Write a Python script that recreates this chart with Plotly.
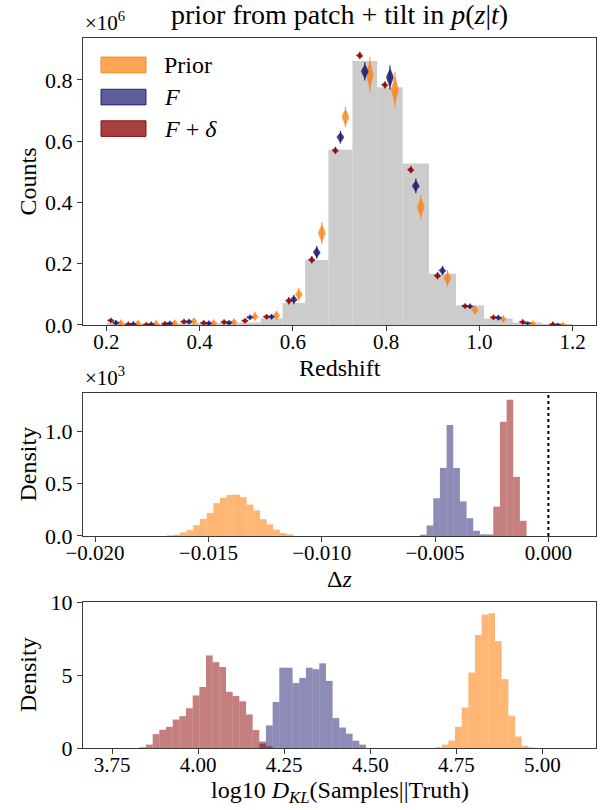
import numpy as np
import plotly.graph_objects as go

FONT = "Liberation Serif"

# ---------------- top panel: redshift distribution ----------------
z_edges = [0.2018, 0.2387, 0.2767, 0.3159, 0.3563, 0.3980, 0.4409, 0.4852, 0.5308,
           0.5778, 0.6263, 0.6762, 0.7277, 0.7808, 0.8355, 0.8918, 0.9499, 1.0098,
           1.0716, 1.1352, 1.2008]
truth_counts = [0.004, 0.002, 0.002, 0.003, 0.006, 0.005, 0.006, 0.008, 0.022, 0.072,
                0.212, 0.572, 0.862, 0.776, 0.527, 0.167, 0.064, 0.021, 0.008, 0.003]  # x1e6

prior_mean = [0.006, 0.005, 0.004, 0.006, 0.012, 0.007, 0.010, 0.028, 0.031, 0.100,
              0.300, 0.679, 0.817, 0.768, 0.385, 0.153, 0.049, 0.020, 0.005, 0.001]
prior_spread = [0.004, 0.004, 0.004, 0.004, 0.004, 0.004, 0.004, 0.005, 0.005, 0.007,
                0.012, 0.011, 0.019, 0.019, 0.013, 0.009, 0.005, 0.004, 0.003, 0.003]
f_mean = [0.0075, 0.003, 0.002, 0.005, 0.011, 0.006, 0.0075, 0.025, 0.027, 0.083,
          0.237, 0.613, 0.828, 0.808, 0.454, 0.178, 0.061, 0.024, 0.006, 0.001]
f_spread = [0.003, 0.003, 0.003, 0.003, 0.003, 0.003, 0.003, 0.003, 0.003, 0.005,
            0.007, 0.007, 0.010, 0.013, 0.008, 0.005, 0.003, 0.003, 0.002, 0.002]
fd_mean = [0.015, 0.002, 0.001, 0.004, 0.011, 0.007, 0.010, 0.014, 0.027, 0.079,
           0.213, 0.570, 0.880, 0.784, 0.507, 0.161, 0.062, 0.025, 0.010, 0.002]
fd_spread = [0.003, 0.003, 0.003, 0.003, 0.003, 0.003, 0.003, 0.003, 0.003, 0.004,
             0.004, 0.004, 0.004, 0.004, 0.004, 0.004, 0.003, 0.003, 0.003, 0.003]
z_ticks = [0.2, 0.4, 0.6, 0.8, 1.0, 1.2]
z_ticktext = ["0.2", "0.4", "0.6", "0.8", "1.0", "1.2"]
counts_ticks = [0.0, 0.2, 0.4, 0.6, 0.8]
counts_ticktext = ["0.0", "0.2", "0.4", "0.6", "0.8"]

# ---------------- middle panel: delta z (density x1e3) ----------------
dz_bin_width = 0.000294
dz_prior_start = -0.016839
dz_prior = [0.006, 0.0125, 0.034, 0.056, 0.103, 0.163, 0.219, 0.313, 0.364, 0.392,
            0.395, 0.37, 0.30, 0.245, 0.16, 0.11, 0.06, 0.028, 0.016]
dz_f_start = -0.005667
dz_f = [0.012, 0.10, 0.36, 0.65, 1.06, 0.65, 0.33, 0.17, 0.05, 0.016]
dz_fd_start = -0.002726
dz_fd = [0.015, 0.28, 1.09, 1.30, 0.565, 0.145]
dz_ticks = [-0.020, -0.015, -0.010, -0.005, 0.0]
dz_ticktext = ["\u22120.020", "\u22120.015", "\u22120.010", "\u22120.005", "0.000"]
dens1_ticks = [0.0, 0.5, 1.0]
dens1_ticktext = ["0.0", "0.5", "1.0"]

# ---------------- bottom panel: log10 KL ----------------
kl_bin_width = 0.01937
kl_prior_start = 4.688
kl_prior = [0.05, 0.23, 0.51, 1.45, 2.77, 5.17, 7.74, 9.14, 9.23, 7.32, 4.71, 2.21, 0.79, 0.16, 0.05]
kl_f_start = 4.1775
kl_f = [0.3, 1.55, 3.15, 5.5, 5.5, 4.45, 4.8, 5.5, 5.4, 5.8, 4.6, 2.05, 1.4, 0.98, 0.5, 0.23]
kl_fd_start = 3.829
kl_fd = [0.05, 0.23, 0.95, 1.25, 1.45, 1.95, 2.18, 2.72, 3.6, 4.18, 6.34, 5.88, 5.55, 3.85,
         3.56, 3.2, 2.3, 1.23, 0.45, 0.12]
kl_ticks = [3.75, 4.00, 4.25, 4.50, 4.75, 5.00]
kl_ticktext = ["3.75", "4.00", "4.25", "4.50", "4.75", "5.00"]
dens2_ticks = [0, 5, 10]
dens2_ticktext = ["0", "5", "10"]

# ---------------- colours ----------------
C_PRIOR = (255, 127, 14)
C_F = (25, 25, 112)
C_FD = (139, 0, 0)


def rgba(c, a):
    return "rgba(%d,%d,%d,%.2f)" % (c[0], c[1], c[2], a)


fig = go.Figure()

# truth histogram
edges = np.array(z_edges)
centers = 0.5 * (edges[:-1] + edges[1:])
widths = np.diff(edges)
fig.add_trace(go.Bar(x=centers, y=truth_counts, width=widths, marker_color="#cccccc",
                     marker_line_width=0, xaxis="x", yaxis="y"))


def violin_paths(xc, means, spreads, half_w):
    xs, ys, lx, ly = [], [], [], []
    t = np.linspace(-2.2, 2.2, 31)
    prof = np.exp(-0.5 * t ** 2)
    for x0, m, s in zip(xc, means, spreads):
        y = m + t * s
        hw = half_w * prof
        xs += list(x0 - hw) + list((x0 + hw)[::-1]) + [None]
        ys += list(y) + list(y[::-1]) + [None]
        lx += [x0, x0, None]
        ly += [m - 3 * s, m + 3 * s, None]
    return xs, ys, lx, ly


offset = 0.0107
half_w = 0.0075
for off, mean, spread, col, a in [(offset, prior_mean, prior_spread, C_PRIOR, 0.75),
                                  (0.0, f_mean, f_spread, C_F, 0.85),
                                  (-offset, fd_mean, fd_spread, C_FD, 0.85)]:
    xs, ys, lx, ly = violin_paths(centers + off, mean, spread, half_w)
    fig.add_trace(go.Scatter(x=lx, y=ly, mode="lines", line=dict(color=rgba(col, a), width=1.3),
                             xaxis="x", yaxis="y", hoverinfo="skip"))
    fig.add_trace(go.Scatter(x=xs, y=ys, mode="lines", fill="toself", fillcolor=rgba(col, a),
                             line=dict(color=rgba(col, a), width=0.5), xaxis="x", yaxis="y",
                             hoverinfo="skip"))


def hist_bar(start, width, vals, col, a, xa, ya):
    xc = [start + (i + 0.5) * width for i in range(len(vals))]
    return go.Bar(x=xc, y=vals, width=[width] * len(vals), marker_color=rgba(col, a),
                  marker_line_width=0, xaxis=xa, yaxis=ya)


fig.add_trace(hist_bar(dz_prior_start, dz_bin_width, dz_prior, C_PRIOR, 0.58, "x2", "y2"))
fig.add_trace(hist_bar(dz_f_start, dz_bin_width, dz_f, C_F, 0.5, "x2", "y2"))
fig.add_trace(hist_bar(dz_fd_start, dz_bin_width, dz_fd, C_FD, 0.5, "x2", "y2"))

fig.add_trace(hist_bar(kl_prior_start, kl_bin_width, kl_prior, C_PRIOR, 0.58, "x3", "y3"))
fig.add_trace(hist_bar(kl_f_start, kl_bin_width, kl_f, C_F, 0.5, "x3", "y3"))
fig.add_trace(hist_bar(kl_fd_start, kl_bin_width, kl_fd, C_FD, 0.5, "x3", "y3"))

axcol = "#3a3a3a"
ax = dict(showline=True, linecolor=axcol, linewidth=1.2, mirror=True, ticks="outside",
          ticklen=5, tickwidth=1.2, tickcolor=axcol, showgrid=False, zeroline=False,
          tickfont=dict(family=FONT, size=22, color="black"))
xax = dict(ax, ticklabelstandoff=-7, tickfont=dict(family=FONT, size=21, color="black"))

fig.update_layout(
    width=606, height=810,
    margin=dict(l=83, r=10, t=38, b=62),
    paper_bgcolor="white", plot_bgcolor="white",
    showlegend=False, barmode="overlay",
    font=dict(family=FONT, size=22, color="black"),
    xaxis=dict(domain=[0, 1], anchor="y", range=[0.15, 1.25], tickvals=z_ticks,
               ticktext=z_ticktext, **xax),
    yaxis=dict(domain=[0.5958, 1], anchor="x", range=[0, 0.937], tickvals=counts_ticks,
               ticktext=counts_ticktext, **ax),
    xaxis2=dict(domain=[0, 1], anchor="y2", range=[-0.02053, 0.0021], tickvals=dz_ticks,
                ticktext=dz_ticktext, **xax),
    yaxis2=dict(domain=[0.2986, 0.5], anchor="x2", range=[0, 1.365], tickvals=dens1_ticks,
                ticktext=dens1_ticktext, **ax),
    xaxis3=dict(domain=[0, 1], anchor="y3", range=[3.6653, 5.1558], tickvals=kl_ticks,
                ticktext=kl_ticktext, **xax),
    yaxis3=dict(domain=[0, 0.2056], anchor="x3", range=[0, 10], tickvals=dens2_ticks,
                ticktext=dens2_ticktext, **ax),
)

# dotted line at zero in delta z panel
fig.add_shape(type="line", xref="x2", yref="y2 domain", x0=0, x1=0, y0=0, y1=1,
              line=dict(color="black", width=2, dash="dot"))

# legend (manual)
leg = [("Prior", C_PRIOR, 0.7, 0.9621), ("<i>F</i>", C_F, 0.7, 0.9168),
       ("<i>F</i> + <i>δ</i>", C_FD, 0.75, 0.8724)]
for txt, col, a, yc in leg:
    fig.add_shape(type="rect", xref="paper", yref="paper", x0=0.0351, x1=0.1228,
                  y0=yc - 0.0110, y1=yc + 0.0110, fillcolor=rgba(col, a),
                  line=dict(color=rgba(col, 0.9), width=1))
    fig.add_annotation(xref="paper", yref="paper", x=0.1534, y=yc, text=txt, showarrow=False,
                       xanchor="left", yanchor="middle", font=dict(family=FONT, size=24))

ann = dict(showarrow=False, xref="paper", yref="paper")
f24 = dict(family=FONT, size=24, color="black")
fig.add_annotation(x=0.5, y=1.0324, text="prior from patch + tilt in <i>p</i>(<i>z</i>|<i>t</i>)",
                   xanchor="center", yanchor="middle", font=dict(family=FONT, size=28), **ann)
fig.add_annotation(x=0.0, y=1.0014, text="×10<sup>6</sup>", xanchor="left", yanchor="bottom",
                   font=dict(family=FONT, size=21), **ann)
fig.add_annotation(x=0.0, y=0.5014, text="×10<sup>3</sup>", xanchor="left", yanchor="bottom",
                   font=dict(family=FONT, size=21), **ann)
fig.add_annotation(x=0.5, y=0.5352, text="Redshift", xanchor="center", yanchor="middle", font=f24, **ann)
fig.add_annotation(x=0.5, y=0.2380, text="Δ<i>z</i>", xanchor="center", yanchor="middle", font=f24, **ann)
fig.add_annotation(x=0.5, y=-0.0859, text="log10 <i>D</i><sub><i>KL</i></sub>(Samples||Truth)",
                   xanchor="center", yanchor="bottom", font=f24, **ann)
fig.add_annotation(x=-0.1072, y=0.7979, text="Counts", textangle=-90, xanchor="center",
                   yanchor="middle", font=f24, **ann)
fig.add_annotation(x=-0.1072, y=0.3993, text="Density", textangle=-90, xanchor="center",
                   yanchor="middle", font=f24, **ann)
fig.add_annotation(x=-0.1072, y=0.1028, text="Density", textangle=-90, xanchor="center",
                   yanchor="middle", font=f24, **ann)

fig.write_html("out.html", post_script="document.body.style.margin='0';",
               config={"displayModeBar": False})
